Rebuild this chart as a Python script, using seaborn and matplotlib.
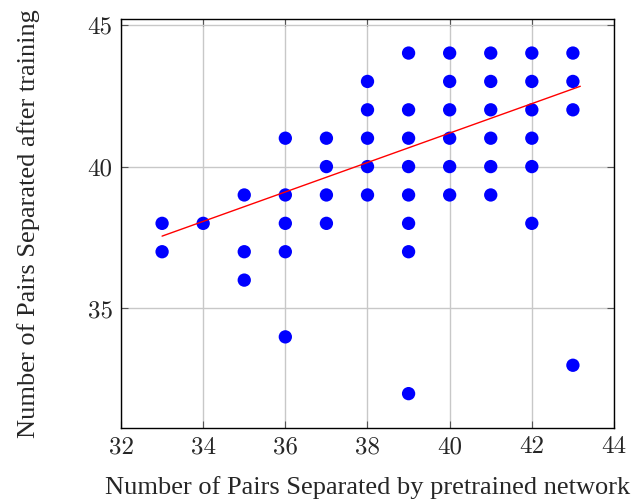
import matplotlib
matplotlib.use("Agg")
import matplotlib.pyplot as plt
import seaborn as sns
import pandas as pd

# Pairs separated by the pretrained network (x) vs. after training (y)
pretrained = (
    [33] * 2 + [34] * 1 + [35] * 3 + [36] * 5 + [37] * 4 + [38] * 5
    + [39] * 8 + [40] * 6 + [41] * 6 + [42] * 6 + [43] * 4
)
after_training = (
    [38, 37]
    + [38]
    + [39, 37, 36]
    + [41, 39, 38, 37, 34]
    + [41, 40, 39, 38]
    + [43, 42, 41, 40, 39]
    + [44, 42, 41, 40, 39, 38, 37, 32]
    + [44, 43, 42, 41, 40, 39]
    + [44, 43, 42, 41, 40, 39]
    + [44, 43, 42, 41, 40, 38]
    + [44, 43, 42, 33]
)

# Linear trend line endpoints
trend_x = [33.0, 43.18]
trend_y = [37.55, 42.83]

x_ticks = [32, 34, 36, 38, 40, 42, 44]
y_ticks = [35, 40, 45]

df = pd.DataFrame({"pretrained": pretrained, "after": after_training})
trend = pd.DataFrame({"x": trend_x, "y": trend_y})

sns.set_theme(style="white")
plt.rcParams["font.family"] = ["Liberation Serif", "DejaVu Serif"]

fig = plt.figure(figsize=(6.44, 5.04), dpi=100)
ax = fig.add_axes([0.1879, 0.1514, 0.7655, 0.8109])

ax.grid(True, color="#c8c8c8", linewidth=1.0, zorder=0)
ax.set_axisbelow(True)

sns.scatterplot(data=df, x="pretrained", y="after", ax=ax, color="#0000ff",
                s=92, edgecolor="none", linewidth=0, zorder=3)
sns.lineplot(data=trend, x="x", y="y", ax=ax, color="#ff0000",
             linewidth=1.0, zorder=4)

ax.set_xlim(32, 44)
ax.set_ylim(30.8, 45.2)
ax.set_xticks(x_ticks)
ax.set_yticks(y_ticks)
ax.set_xticklabels([str(t) for t in x_ticks], fontfamily="cmr10", fontsize=18)
ax.set_yticklabels([str(t) for t in y_ticks], fontfamily="cmr10", fontsize=18)

ax.tick_params(direction="in", length=5, width=0.8, color="#555555",
               top=True, right=True, bottom=True, left=True, pad=6)

for spine in ax.spines.values():
    spine.set_color("black")
    spine.set_linewidth(1.0)

ax.set_xlabel("Number of Pairs Separated by pretrained network", fontsize=19, labelpad=13)
ax.set_ylabel("Number of Pairs Separated after training", fontsize=19, labelpad=34)

fig.savefig("out.png", dpi=100)
